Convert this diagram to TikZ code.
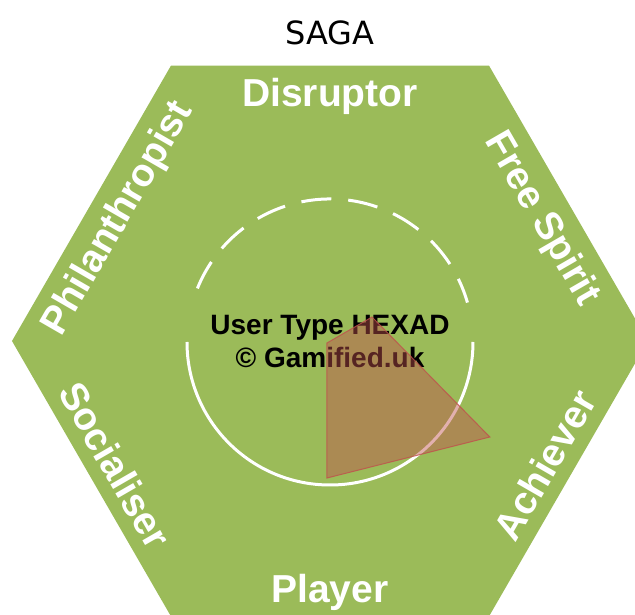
\documentclass[tikz,border=0pt]{standalone}
\usepackage{fontspec}
\setmainfont{Liberation Sans}
\newfontfamily\sagafont{DejaVu Sans}
\definecolor{hexgreen}{RGB}{155,187,89}
\definecolor{radarred}{RGB}{192,80,77}

\begin{document}
\begin{tikzpicture}[x=1pt,y=1pt,
    typelabel/.style={anchor=base,text=white,inner sep=0pt,
      font=\fontsize{39}{39}\selectfont\bfseries},
    centertext/.style={anchor=base,text=black,inner sep=0pt,
      font=\fontsize{28}{28}\selectfont\bfseries}]
  \useasboundingbox (-330,-274) rectangle (305,341);
  \clip (-330,-274) rectangle (305,341);
  \fill[color=white] (-330,-274) rectangle (305,341);
  \fill[hexgreen] (0:318) \foreach \a in {60,120,...,300} { -- (\a:318) } -- cycle;
  \node[anchor=base,inner sep=0pt,font=\sagafont\fontsize{32}{32}\selectfont]
    (saga) at (0,296) {SAGA};
  % tops facing out
  \node[typelabel] (disruptor) at (90:234) {Disruptor};
  \node[typelabel,rotate=-60] (freespirit) at (30:234) {Free Spirit};
  \node[typelabel,rotate=60] (philanthropist) at (150:234) {Philanthropist};
  % tops facing in
  \node[typelabel] (player) at (-90:262) {Player};
  \node[typelabel,rotate=60] (achiever) at (-30:262) {Achiever};
  \node[typelabel,rotate=-60] (socialiser) at (-150:262) {Socialiser};
  \draw[white,line width=3pt] ([shift={(0:143)}]0,-1) arc (0:-180:143);
  \draw[white,line width=3pt,dash pattern=on 30pt off 17pt]
    ([shift={(158:143)}]0,-1) arc (158:16:143);
  \node[centertext] (hexadtitle) at (0,6) {User Type HEXAD};
  \node[centertext] (hexadcredit) at (0,-27) {© Gamified.uk};
  \begin{scope}[shift={(-3,-2)}]
    \coordinate (rc) at (0,0);
    \coordinate (fs) at (30:52);
    \coordinate (ach) at (-30:188);
    \coordinate (ply) at (-90:135);
    \filldraw[fill=radarred,fill opacity=0.45,draw=radarred,draw opacity=0.8,
      line width=1pt] (rc) -- (fs) -- (ach) -- (ply) -- cycle;
  \end{scope}
\end{tikzpicture}
\end{document}
